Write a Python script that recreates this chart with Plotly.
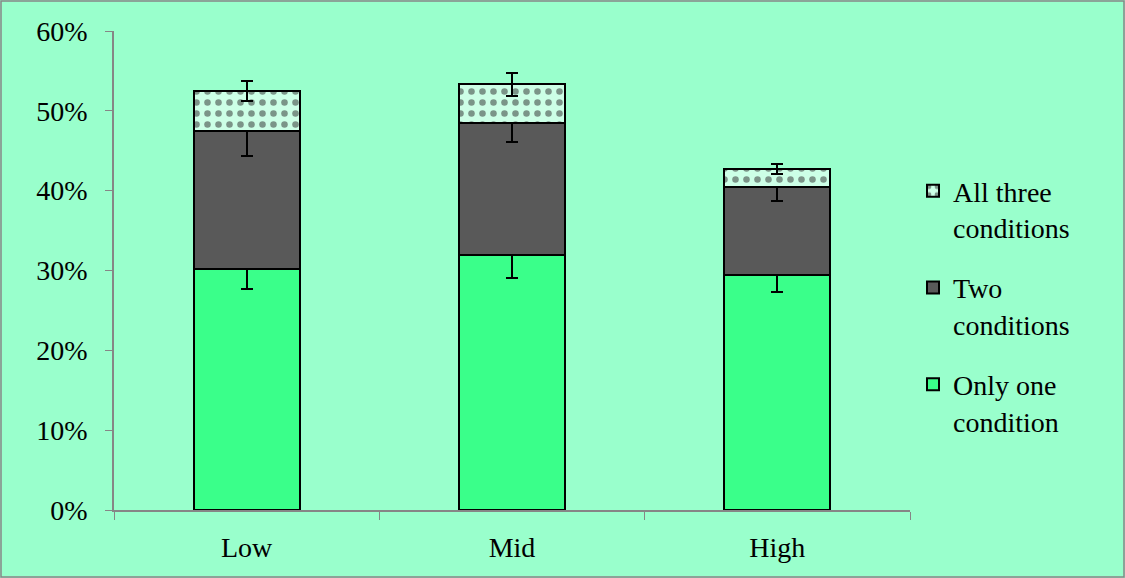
import plotly.graph_objects as go

categories = ["Low", "Mid", "High"]
only_one = [30.2, 32.0, 29.4]
two_cond = [17.3, 16.5, 11.0]
all_three = [5.0, 4.8, 2.3]
err_one = [2.5, 3.0, 2.15]
err_two = [3.1, 2.45, 1.65]
err_three = [1.3, 1.45, 0.65]
y_ticks = [0, 10, 20, 30, 40, 50, 60]
y_tick_text = ["0%", "10%", "20%", "30%", "40%", "50%", "60%"]

W, H = 1125, 578
ML, MR, MT, MB = 114, 215, 31, 68
PW, PH = W - ML - MR, H - MT - MB

BG = "#99FFCC"
FONT = "Liberation Serif"
FS = 28

def err(vals):
    return dict(type="data", array=vals, visible=True, color="black", thickness=2, width=6)

fig = go.Figure()
fig.add_trace(go.Bar(
    x=categories, y=only_one, name="Only one<br>condition", legendgroup="c",
    legendrank=3,
    marker=dict(color="#3AFF8A", line=dict(color="black", width=2)),
    error_y=err(err_one)))
fig.add_trace(go.Bar(
    x=categories, y=two_cond, name="Two<br>conditions", legendgroup="b",
    legendrank=2,
    marker=dict(color="#595959", line=dict(color="black", width=2)),
    error_y=err(err_two)))
fig.add_trace(go.Bar(
    x=categories, y=all_three, name="All three<br>conditions", legendgroup="a",
    legendrank=1,
    marker=dict(color="#CCFFE6", line=dict(color="black", width=2),
                pattern=dict(shape=".", fgcolor="#2A2A2A", bgcolor="#CCFFE6",
                             size=11, solidity=0.28)),
    error_y=err(err_three)))

fig.update_layout(
    barmode="stack",
    bargap=0.6,
    width=W, height=H,
    margin=dict(l=ML, r=MR, t=MT, b=MB),
    paper_bgcolor=BG, plot_bgcolor=BG,
    font=dict(family=FONT, size=FS, color="black"),
    showlegend=True,
    legend=dict(x=(913 - ML) / PW, xanchor="left", y=(510 - 166) / PH, yanchor="top",
                traceorder="grouped", tracegroupgap=21, bgcolor="rgba(0,0,0,0)",
                font=dict(family=FONT, size=FS, color="black"),
                itemwidth=30, valign="top"),
    xaxis=dict(type="category", showgrid=False, showline=True, linecolor="#868686",
               linewidth=1.5, ticks="outside", tickson="boundaries", ticklen=8,
               tickcolor="#868686", tickwidth=1.2, zeroline=False,
               tickfont=dict(family=FONT, size=FS), range=[-0.5, 2.5],
               ticklabelstandoff=12),
    yaxis=dict(range=[0, 60], tickmode="array", tickvals=y_ticks, ticktext=y_tick_text,
               showgrid=False,
               showline=True, linecolor="#868686", linewidth=1.5, ticks="outside",
               ticklen=7, tickcolor="#868686", tickwidth=1.2, zeroline=False,
               tickfont=dict(family=FONT, size=FS), ticklabelstandoff=12),
    shapes=[dict(type="rect", xref="paper", yref="paper",
                 x0=-(ML - 1) / PW, x1=1 + (MR - 1) / PW,
                 y0=-(MB - 1) / PH, y1=1 + (MT - 1) / PH,
                 line=dict(color="#868686", width=1.5), layer="below")],
)

fig.write_html("out.html", config={"displayModeBar": False},
               post_script="document.body.style.margin='0px';")
